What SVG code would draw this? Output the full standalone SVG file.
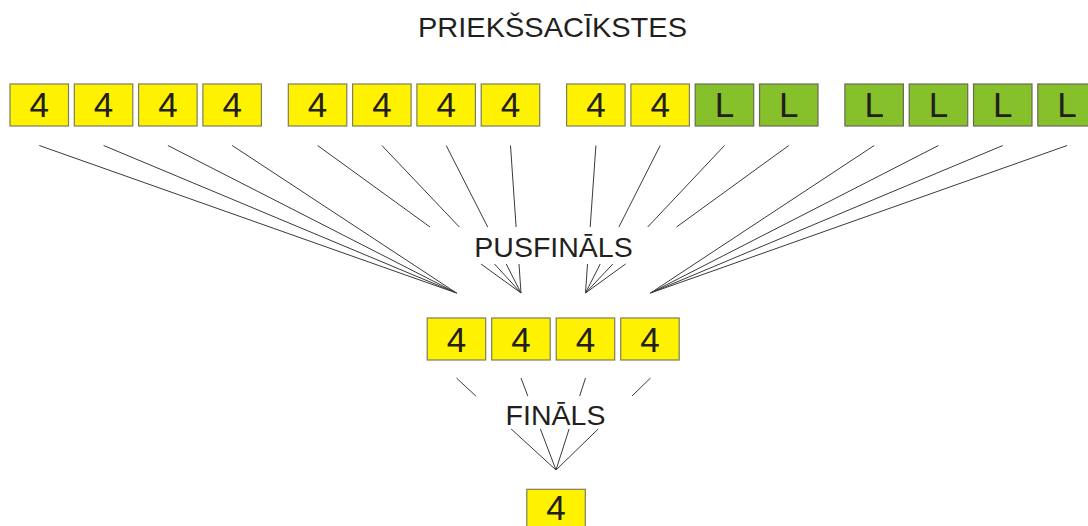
<svg xmlns="http://www.w3.org/2000/svg" width="1088" height="526" viewBox="0 0 1088 526">
<style>
.y{fill:#FFF200;stroke:#7d7d60;stroke-width:1.2}
.g{fill:#86C02A;stroke:#6a6a55;stroke-width:1.2}
.n{font-family:"Liberation Sans",Arial,sans-serif;font-size:35px;fill:#231f20;text-anchor:middle}
.lbl{font-family:"Liberation Sans",Arial,sans-serif;font-size:28.5px;fill:#231f20;text-anchor:middle}
.c line{stroke:#3a3a3a;stroke-width:1}
</style>
<rect width="1088" height="526" fill="#fff"/>
<text id="title" class="lbl" x="552.5" y="37" font-size="29" textLength="269" lengthAdjust="spacingAndGlyphs">PRIEKŠSACĪKSTES</text>
<text id="semi" class="lbl" x="553.5" y="257">PUSFINĀLS</text>
<text id="final" class="lbl" x="555.5" y="425">FINĀLS</text>

<g id="connectors" class="c">
  <line x1="39.3" y1="145.5" x2="456.5" y2="293"/>
  <line x1="103.6" y1="145.5" x2="456.5" y2="293"/>
  <line x1="167.9" y1="145.5" x2="456.5" y2="293"/>
  <line x1="232.2" y1="145.5" x2="456.5" y2="293"/>
  <line x1="317.6" y1="145.5" x2="430" y2="227"/>
  <line x1="481" y1="264" x2="521" y2="293"/>
  <line x1="381.9" y1="145.5" x2="459.3" y2="227"/>
  <line x1="494.5" y1="264" x2="521" y2="293"/>
  <line x1="446.2" y1="145.5" x2="487.7" y2="227"/>
  <line x1="506.2" y1="264" x2="521" y2="293"/>
  <line x1="510.5" y1="145.5" x2="516.1" y2="227"/>
  <line x1="519" y1="264" x2="521" y2="293"/>
  <line x1="595.9" y1="145.5" x2="590.2" y2="227"/>
  <line x1="587.5" y1="264" x2="585.5" y2="293"/>
  <line x1="660.2" y1="145.5" x2="618.9" y2="227"/>
  <line x1="600.2" y1="264" x2="585.5" y2="293"/>
  <line x1="724.5" y1="145.5" x2="647.7" y2="227"/>
  <line x1="612.8" y1="264" x2="585.5" y2="293"/>
  <line x1="788.8" y1="145.5" x2="676.5" y2="227"/>
  <line x1="625.5" y1="264" x2="585.5" y2="293"/>
  <line x1="874.2" y1="145.5" x2="650.5" y2="293"/>
  <line x1="938.5" y1="145.5" x2="650.5" y2="293"/>
  <line x1="1002.8" y1="145.5" x2="650.5" y2="293"/>
  <line x1="1067.1" y1="145.5" x2="650.5" y2="293"/>
  <line x1="456.5" y1="378" x2="475.8" y2="396"/>
  <line x1="511.2" y1="429" x2="556" y2="470"/>
  <line x1="521" y1="378" x2="527.8" y2="396"/>
  <line x1="540.4" y1="429" x2="556" y2="470"/>
  <line x1="585.5" y1="378" x2="579.7" y2="396"/>
  <line x1="569.1" y1="429" x2="556" y2="470"/>
  <line x1="650.5" y1="378" x2="632" y2="396"/>
  <line x1="598.2" y1="429" x2="556" y2="470"/>
</g>

<g id="q1"><rect class="y" x="10" y="84" width="58.5" height="42"/><text class="n" x="39.3" y="117">4</text></g>
<g id="q2"><rect class="y" x="74.3" y="84" width="58.5" height="42"/><text class="n" x="103.6" y="117">4</text></g>
<g id="q3"><rect class="y" x="138.6" y="84" width="58.5" height="42"/><text class="n" x="167.9" y="117">4</text></g>
<g id="q4"><rect class="y" x="202.9" y="84" width="58.5" height="42"/><text class="n" x="232.2" y="117">4</text></g>
<g id="q5"><rect class="y" x="288.3" y="84" width="58.5" height="42"/><text class="n" x="317.6" y="117">4</text></g>
<g id="q6"><rect class="y" x="352.6" y="84" width="58.5" height="42"/><text class="n" x="381.9" y="117">4</text></g>
<g id="q7"><rect class="y" x="416.9" y="84" width="58.5" height="42"/><text class="n" x="446.2" y="117">4</text></g>
<g id="q8"><rect class="y" x="481.2" y="84" width="58.5" height="42"/><text class="n" x="510.5" y="117">4</text></g>
<g id="q9"><rect class="y" x="566.6" y="84" width="58.5" height="42"/><text class="n" x="595.9" y="117">4</text></g>
<g id="q10"><rect class="y" x="630.9" y="84" width="58.5" height="42"/><text class="n" x="660.2" y="117">4</text></g>
<g id="q11"><rect class="g" x="695.2" y="84" width="58.5" height="42"/><text class="n" x="724.5" y="117">L</text></g>
<g id="q12"><rect class="g" x="759.5" y="84" width="58.5" height="42"/><text class="n" x="788.8" y="117">L</text></g>
<g id="q13"><rect class="g" x="844.9" y="84" width="58.5" height="42"/><text class="n" x="874.2" y="117">L</text></g>
<g id="q14"><rect class="g" x="909.2" y="84" width="58.5" height="42"/><text class="n" x="938.5" y="117">L</text></g>
<g id="q15"><rect class="g" x="973.5" y="84" width="58.5" height="42"/><text class="n" x="1002.8" y="117">L</text></g>
<g id="q16"><rect class="g" x="1037.8" y="84" width="58.5" height="42"/><text class="n" x="1067.1" y="117">L</text></g>

<g id="s1"><rect class="y" x="427.2" y="318" width="58.5" height="42"/><text class="n" x="456.5" y="352">4</text></g>
<g id="s2"><rect class="y" x="491.7" y="318" width="58.5" height="42"/><text class="n" x="521" y="352">4</text></g>
<g id="s3"><rect class="y" x="556.2" y="318" width="58.5" height="42"/><text class="n" x="585.5" y="352">4</text></g>
<g id="s4"><rect class="y" x="620.7" y="318" width="58.5" height="42"/><text class="n" x="650" y="352">4</text></g>

<g id="f1"><rect class="y" x="526.8" y="489.3" width="58.5" height="42"/><text class="n" x="556" y="520">4</text></g>
</svg>
